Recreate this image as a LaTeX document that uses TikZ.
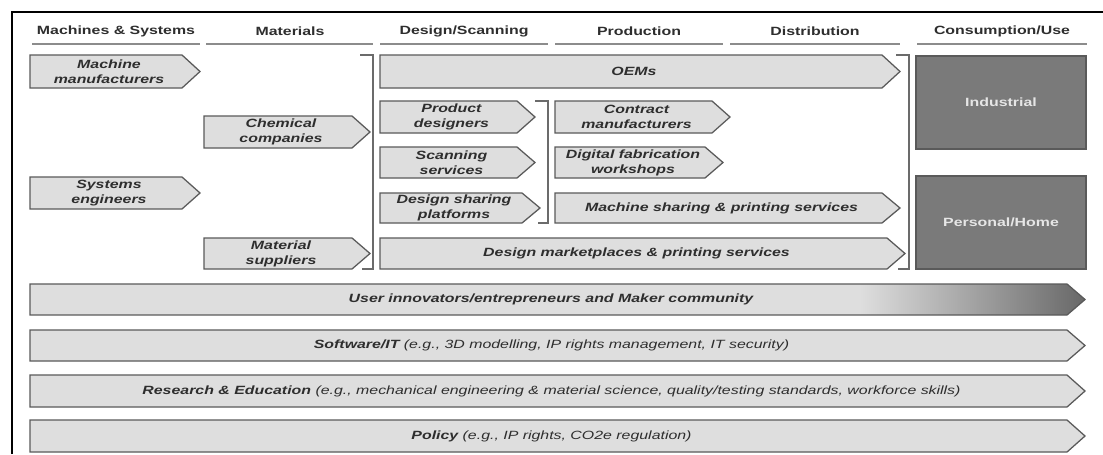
\documentclass[tikz,border=0pt]{standalone}
\usepackage{fontspec}
\setmainfont{Liberation Sans}[FakeStretch=1.33]
\usepackage{xcolor}
\definecolor{boxfill}{HTML}{DEDEDE}
\definecolor{boxline}{HTML}{5A5A5A}
\definecolor{ink}{HTML}{2E2E2E}
\definecolor{darkfill}{HTML}{7A7A7A}
\definecolor{paleink}{HTML}{E6E6E6}
\definecolor{rule}{HTML}{8C8C8C}
\usepackage{tikz}

\tikzset{
  stage/.style={draw=boxline, fill=boxfill, line width=0.9pt, line join=miter},
  stagetext/.style={font=\fontsize{8.5}{10.7}\selectfont\bfseries\itshape, text=ink, align=center, inner sep=0pt},
  bartext/.style={font=\fontsize{8.5}{10.7}\selectfont\itshape, text=ink, inner sep=0pt},
  head/.style={font=\fontsize{8.5}{10.7}\selectfont\bfseries, text=ink, inner sep=0pt},
  headline/.style={draw=rule, line width=1.4pt},
  bracket/.style={draw=boxline!90, line width=1pt},
  market/.style={draw=boxline, fill=darkfill, line width=0.9pt, minimum width=121pt, minimum height=66pt,
    font=\fontsize{8.5}{10.7}\selectfont\bfseries, text=paleink},
}

% chevron box: name, left, tip, top, bottom, text
\newcommand{\stagebox}[6]{%
  \draw[stage] (#2,#4) -- ({#3-18},#4) -- (#3,{(#4+#5)/2}) -- ({#3-18},#5) -- (#2,#5) -- cycle;
  \node[stagetext] (#1) at ({(#2+#3)/2-6},{(#4+#5)/2}) {#6};
}

\begin{document}
\begin{tikzpicture}[x=0.025cm, y=-0.025cm]
  \useasboundingbox (0,0) rectangle (1103,454);
  \fill[white] (0,0) rectangle (1103,454);
  \draw[line width=2pt] (12,454) -- (12,12) -- (1103,12);

  % value chain headers
  \node[head] (hmach) at (116,31) {Machines \& Systems};
  \node[head] (hmat)  at (290,31) {Materials};
  \node[head] (hdes)  at (464,31) {Design/Scanning};
  \node[head] (hprod) at (639,31) {Production};
  \node[head] (hdist) at (815,31) {Distribution};
  \node[head] (hcons) at (1002,31) {Consumption/Use};
  \draw[headline] (32,44) -- (200,44);
  \draw[headline] (206,44) -- (373,44);
  \draw[headline] (380,44) -- (548,44);
  \draw[headline] (555,44) -- (723,44);
  \draw[headline] (730,44) -- (900,44);
  \draw[headline] (917,44) -- (1087,44);

  % machines and materials
  \stagebox{mach}{30}{200}{55}{88}{Machine\\manufacturers}
  \stagebox{syseng}{30}{200}{177}{209}{Systems\\engineers}
  \stagebox{chem}{204}{370}{116}{148}{Chemical\\companies}
  \stagebox{matsup}{204}{370}{238}{269}{Material\\suppliers}
  \draw[bracket] (360,55) -- (373,55) -- (373,269) -- (362,269);

  % design and production
  \stagebox{oem}{380}{900}{55}{88}{OEMs}
  \stagebox{proddes}{380}{535}{101}{133}{Product\\designers}
  \stagebox{scan}{380}{535}{147}{178}{Scanning\\services}
  \stagebox{dshare}{380}{540}{193}{223}{Design sharing\\platforms}
  \draw[bracket] (535,101) -- (548,101) -- (548,223) -- (538,223);
  \stagebox{contract}{555}{730}{101}{133}{Contract\\manufacturers}
  \stagebox{digfab}{555}{723}{147}{178}{Digital fabrication\\workshops}
  \stagebox{mshare}{555}{900}{193}{223}{Machine sharing \& printing services}
  \stagebox{dmarket}{380}{905}{238}{269}{Design marketplaces \& printing services}
  \draw[bracket] (896,55) -- (909,55) -- (909,269) -- (898,269);

  % consumption
  \node[market] (indus) at (1001,102.5) {Industrial};
  \node[market] (home) at (1001,222.5) {Personal/Home};

  % makers, shaded towards the tip
  \begin{scope}
    \clip (30,284) -- (1067,284) -- (1085,299.5) -- (1067,315) -- (30,315) -- cycle;
    \fill[boxfill] (30,284) rectangle (1085,315);
    \shade[left color=boxfill, right color=darkfill!85!black] (860,284) rectangle (1085,315);
  \end{scope}
  \draw[stage, fill=none] (30,284) -- (1067,284) -- (1085,299.5) -- (1067,315) -- (30,315) -- cycle;
  \node[stagetext] (maker) at (551,299.5) {User innovators/entrepreneurs and Maker community};

  % enabling layers
  \stagebox{soft}{30}{1085}{330}{361}{}
  \node[bartext] at (soft) {\textbf{Software/IT} (e.g., 3D modelling, IP rights management, IT security)};
  \stagebox{research}{30}{1085}{375}{407}{}
  \node[bartext] at (research) {\textbf{Research \& Education} (e.g., mechanical engineering \& material science, quality/testing standards, workforce skills)};
  \stagebox{policy}{30}{1085}{420}{452}{}
  \node[bartext] at (policy) {\textbf{Policy} (e.g., IP rights, CO2e regulation)};
\end{tikzpicture}
\end{document}
